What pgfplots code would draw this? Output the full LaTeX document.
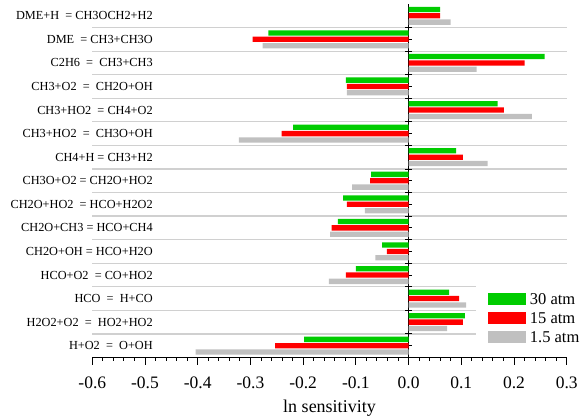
\documentclass[border=0pt]{standalone}
\usepackage{fontspec}
\setmainfont{Liberation Serif}
\usepackage{pgfplots}
\usepackage{pgfplotstable}
\pgfplotsset{compat=1.18}
\definecolor{cgreen}{RGB}{0,204,0}
\definecolor{cred}{RGB}{255,0,0}
\definecolor{cgray}{RGB}{192,192,192}
\definecolor{cgrid}{RGB}{208,208,208}
\pgfplotstableread{
y  g       r       s
15  0.060   0.060   0.080
14 -0.266  -0.296  -0.277
13  0.258   0.220   0.129
12 -0.119  -0.117  -0.117
11  0.169   0.181   0.234
10 -0.219  -0.241  -0.322
9   0.090   0.103   0.150
8  -0.071  -0.073  -0.107
7  -0.124  -0.117  -0.083
6  -0.134  -0.146  -0.149
5  -0.050  -0.041  -0.063
4  -0.100  -0.119  -0.151
3   0.077   0.096   0.109
2   0.107   0.103   0.073
1  -0.198  -0.253  -0.404
}\data
\newcommand{\lbl}{\fontsize{12.3}{12.3}\selectfont}
\begin{document}
\begin{tikzpicture}
\useasboundingbox (0,0) rectangle (586pt,420pt);
\begin{axis}[
  at={(92.3pt,62.5pt)}, anchor=south west,
  scale only axis, width=474.4pt, height=353.5pt,
  xmin=-0.6, xmax=0.3, ymin=0.5, ymax=15.5,
  clip=false,
  xbar, bar width=0.225,
  axis x line=bottom, axis y line=middle,
  x axis line style={-, line width=1.2pt},
  y axis line style={-, line width=1.2pt},
  hide obscured x ticks=false,
  xtick={-0.6,-0.5,-0.4,-0.3,-0.2,-0.1,0,0.1,0.2,0.3},
  xticklabels={-0.6,-0.5,-0.4,-0.3,-0.2,-0.1,0.0,0.1,0.2,0.3},
  minor x tick num=4,
  ytick={1.5,2.5,3.5,4.5,5.5,6.5,7.5,8.5,9.5,10.5,11.5,12.5,13.5,14.5},
  minor ytick={1,2,3,4,5,6,7,8,9,10,11,12,13,14,15},
  yticklabels={},
  tick align=outside,
  major tick length=7pt, minor tick length=3.5pt,
  every tick/.style={black, line width=0.9pt},
  ytick style={xshift=3.5pt},
  ymajorgrids, major grid style={cgrid, line width=1.2pt},
  xticklabel style={font=\fontsize{17.5}{17.5}\selectfont, anchor=base, yshift=-24.2pt},
  xlabel={ln sensitivity},
  xlabel style={font=\fontsize{18}{18}\selectfont, at={(axis description cs:0.5,0)}, anchor=base, yshift=-55.5pt},
  legend style={draw=none, fill=white, at={(axis description cs:0.8088,0.2042)}, anchor=north west,
    inner xsep=11.7pt, inner ysep=6pt, row sep=4pt, column sep=3pt,
    font=\fontsize{16.5}{16.5}\selectfont,
    nodes={inner sep=1pt, text height=12pt, text depth=1pt, anchor=west}},
  legend cell align=left,
  legend image code/.code={\path[#1, draw=none] (0pt,-6.3pt) rectangle (38pt,6.3pt);},
]
\addplot[fill=cgreen, draw=none, bar shift=0.27] table[x=g, y=y] {\data};
\addplot[fill=cred, draw=none, bar shift=0] table[x=r, y=y] {\data};
\addplot[fill=cgray, draw=none, bar shift=-0.27] table[x=s, y=y] {\data};
\legend{30 atm, 15 atm, 1.5 atm}
\node[anchor=east, inner sep=0pt, font=\lbl] at (axis cs:-0.485,15) {DME+H\ \ = CH3OCH2+H2};
\node[anchor=east, inner sep=0pt, font=\lbl] at (axis cs:-0.485,14) {DME\ \ = CH3+CH3O};
\node[anchor=east, inner sep=0pt, font=\lbl] at (axis cs:-0.485,13) {C2H6\ \ =\ \ CH3+CH3};
\node[anchor=east, inner sep=0pt, font=\lbl] at (axis cs:-0.485,12) {CH3+O2\ \ =\ \ CH2O+OH};
\node[anchor=east, inner sep=0pt, font=\lbl] at (axis cs:-0.485,11) {CH3+HO2\ \ = CH4+O2};
\node[anchor=east, inner sep=0pt, font=\lbl] at (axis cs:-0.485,10) {CH3+HO2\ \ =\ \ CH3O+OH};
\node[anchor=east, inner sep=0pt, font=\lbl] at (axis cs:-0.485,9) {CH4+H = CH3+H2};
\node[anchor=east, inner sep=0pt, font=\lbl] at (axis cs:-0.485,8) {CH3O+O2 = CH2O+HO2};
\node[anchor=east, inner sep=0pt, font=\lbl] at (axis cs:-0.485,7) {CH2O+HO2\ \ = HCO+H2O2};
\node[anchor=east, inner sep=0pt, font=\lbl] at (axis cs:-0.485,6) {CH2O+CH3 = HCO+CH4};
\node[anchor=east, inner sep=0pt, font=\lbl] at (axis cs:-0.485,5) {CH2O+OH = HCO+H2O};
\node[anchor=east, inner sep=0pt, font=\lbl] at (axis cs:-0.485,4) {HCO+O2\ \ = CO+HO2};
\node[anchor=east, inner sep=0pt, font=\lbl] at (axis cs:-0.485,3) {HCO\ \ =\ \ H+CO};
\node[anchor=east, inner sep=0pt, font=\lbl] at (axis cs:-0.485,2) {H2O2+O2\ \ =\ \ HO2+HO2};
\node[anchor=east, inner sep=0pt, font=\lbl] at (axis cs:-0.485,1) {H+O2\ \ =\ \ O+OH};
\end{axis}
\end{tikzpicture}
\end{document}
